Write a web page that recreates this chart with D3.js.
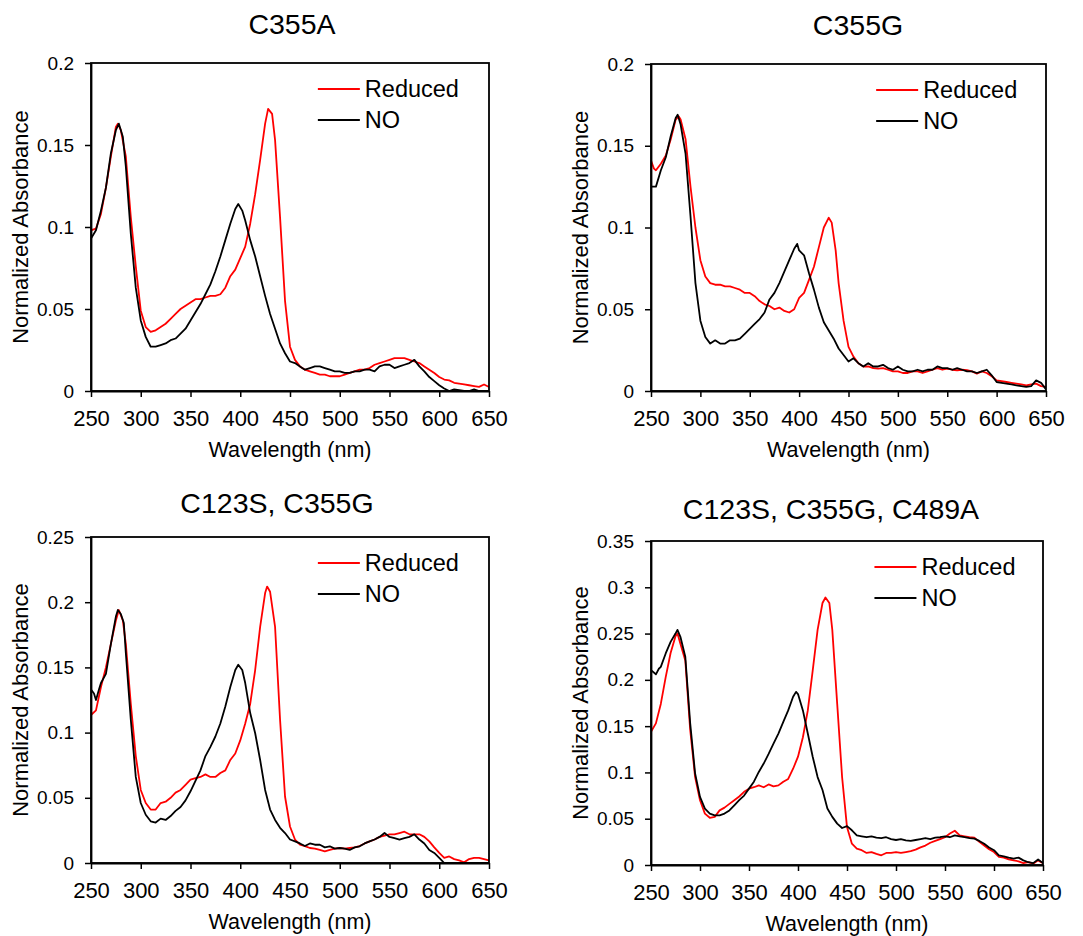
<!DOCTYPE html>
<html>
<head>
<meta charset="utf-8">
<script src="https://cdn.jsdelivr.net/npm/d3@7"></script>
<style>
  body { margin: 0; background: #fff; }
  svg { font-family: Arial, "Liberation Sans", sans-serif; }
  .axis path, .axis line { stroke: #000; }
</style>
</head>
<body>
<div id="chart"></div>
<script>
// panel titles and y ranges
var titles = ["C355A", "C355G", "C123S, C355G", "C123S, C355G, C489A"],
    yMaxes = [0.2, 0.2, 0.25, 0.35],
    xTicks = [250, 300, 350, 400, 450, 500, 550, 600, 650],
    seriesNames = ["Reduced", "NO"],
    seriesColors = ["#ff0000", "#000000"];

// spectra as [wavelength (nm), normalized absorbance]
var c355aReduced = [[250,.098],[255,.099],[260,.108],[265,.124],[270,.143],[275,.161],[277,.163],[280,.159],[285,.143],[290,.106],[295,.076],[300,.049],[305,.039],[310,.036],[315,.037],[320,.039],[325,.041],[330,.044],[335,.047],[340,.050],[345,.052],[350,.054],[355,.056],[360,.056],[365,.057],[370,.058],[375,.058],[380,.059],[385,.063],[390,.070],[395,.074],[400,.081],[405,.088],[410,.102],[415,.120],[420,.141],[425,.163],[428,.172],[432,.169],[435,.153],[440,.106],[445,.055],[450,.027],[455,.019],[460,.015],[465,.013],[470,.012],[475,.011],[480,.010],[485,.010],[490,.009],[495,.009],[500,.009],[505,.010],[510,.011],[515,.012],[520,.013],[525,.013],[530,.014],[535,.016],[540,.017],[545,.018],[550,.019],[555,.020],[560,.020],[565,.020],[570,.019],[575,.018],[580,.017],[585,.015],[590,.013],[595,.011],[600,.0085],[605,.007],[610,.0065],[615,.005],[620,.0045],[625,.004],[630,.0035],[635,.003],[640,.0025],[645,.004],[650,.0025]];
var c355aNO = [[250,.093],[255,.098],[260,.110],[265,.124],[270,.145],[275,.159],[278,.163],[282,.155],[285,.137],[290,.096],[295,.063],[300,.043],[305,.033],[310,.027],[315,.027],[320,.028],[325,.029],[330,.031],[335,.032],[340,.035],[345,.038],[350,.043],[355,.048],[360,.053],[365,.059],[370,.065],[375,.073],[380,.082],[385,.092],[390,.102],[395,.111],[398,.114],[402,.110],[405,.104],[410,.092],[415,.082],[420,.070],[425,.058],[430,.047],[435,.038],[440,.029],[445,.023],[450,.018],[455,.017],[460,.015],[465,.013],[470,.014],[475,.015],[480,.015],[485,.014],[490,.013],[495,.012],[500,.012],[505,.011],[510,.011],[515,.012],[520,.012],[525,.013],[530,.013],[535,.012],[540,.015],[545,.016],[550,.016],[555,.014],[560,.015],[565,.016],[570,.017],[575,.019],[580,.015],[585,.012],[590,.0085],[595,.006],[600,.0035],[605,.0015],[610,0],[615,.001],[620,.0005],[625,0],[630,0],[635,.001],[640,0],[645,0],[650,0]];

var c355gReduced = [[250,.141],[253,.136],[255,.135],[260,.139],[265,.144],[270,.154],[275,.166],[278,.168],[280,.166],[285,.154],[290,.125],[295,.100],[300,.080],[305,.070],[310,.066],[315,.065],[320,.065],[325,.064],[330,.064],[335,.063],[340,.062],[345,.060],[350,.060],[355,.058],[360,.055],[365,.053],[370,.052],[375,.050],[380,.051],[385,.049],[390,.048],[395,.050],[400,.057],[405,.060],[410,.068],[415,.076],[420,.088],[425,.100],[430,.106],[433,.103],[437,.086],[440,.066],[445,.043],[450,.027],[455,.021],[460,.017],[465,.015],[470,.015],[475,.014],[480,.0137],[485,.014],[490,.013],[495,.012],[500,.012],[505,.011],[510,.011],[515,.012],[520,.012],[525,.011],[530,.012],[535,.013],[540,.014],[545,.013],[550,.0137],[555,.013],[560,.0127],[565,.013],[570,.0127],[575,.012],[580,.0106],[585,.012],[590,.011],[595,.009],[600,.0065],[605,.006],[610,.0055],[615,.005],[620,.0045],[625,.004],[630,.0035],[635,.004],[640,.0045],[645,.003],[650,.0025]];
var c355gNO = [[250,.125],[255,.125],[260,.135],[265,.143],[270,.156],[275,.167],[277,.169],[280,.163],[285,.145],[290,.107],[295,.066],[300,.043],[305,.033],[310,.029],[315,.031],[320,.029],[325,.029],[330,.031],[335,.031],[340,.032],[345,.035],[350,.038],[355,.041],[360,.044],[365,.048],[370,.056],[375,.060],[380,.066],[385,.073],[390,.080],[395,.087],[398,.090],[400,.086],[405,.083],[410,.072],[415,.062],[420,.051],[425,.042],[430,.037],[435,.032],[440,.026],[445,.022],[450,.018],[455,.020],[460,.017],[465,.015],[470,.017],[475,.015],[480,.015],[485,.016],[490,.014],[495,.013],[500,.015],[505,.013],[510,.012],[515,.012],[520,.013],[525,.012],[530,.013],[535,.013],[540,.015],[545,.014],[550,.014],[555,.013],[560,.014],[565,.013],[570,.012],[575,.012],[580,.011],[585,.012],[590,.013],[595,.0096],[600,.0055],[605,.005],[610,.0045],[615,.004],[620,.0035],[625,.003],[630,.0025],[635,.003],[640,.0065],[645,.005],[650,.001]];

var c123sReduced = [[250,.1135],[255,.117],[260,.135],[265,.150],[270,.168],[275,.186],[278,.194],[282,.186],[285,.168],[290,.122],[295,.082],[300,.056],[305,.046],[310,.041],[315,.041],[320,.046],[325,.047],[330,.050],[335,.054],[340,.056],[345,.060],[350,.064],[355,.065],[360,.066],[365,.068],[370,.066],[375,.066],[380,.069],[385,.071],[390,.079],[395,.084],[400,.094],[405,.107],[410,.122],[415,.148],[420,.181],[425,.207],[427,.212],[430,.208],[435,.181],[440,.110],[445,.051],[450,.028],[455,.018],[460,.014],[465,.013],[470,.0115],[475,.011],[480,.010],[485,.009],[490,.010],[495,.011],[500,.0115],[505,.011],[510,.0115],[515,.012],[520,.013],[525,.015],[530,.0166],[535,.018],[540,.020],[545,.021],[550,.022],[555,.022],[560,.023],[565,.024],[570,.022],[575,.022],[580,.022],[585,.020],[590,.0166],[595,.012],[600,.0077],[605,.004],[610,.005],[615,.003],[620,.002],[625,.0005],[630,.003],[635,.004],[640,.004],[645,.003],[650,.002]];
var c123sNO = [[250,.133],[253,.130],[255,.125],[258,.133],[260,.138],[265,.145],[270,.168],[275,.189],[277,.194],[280,.191],[283,.184],[285,.161],[290,.110],[295,.066],[300,.046],[305,.037],[310,.032],[315,.031],[320,.034],[325,.033],[330,.036],[335,.040],[340,.043],[345,.048],[350,.055],[355,.063],[360,.071],[365,.082],[370,.089],[375,.097],[380,.107],[385,.120],[390,.135],[395,.148],[398,.152],[402,.148],[405,.138],[410,.115],[415,.0995],[420,.079],[425,.056],[430,.041],[435,.033],[440,.027],[445,.023],[450,.018],[455,.0166],[460,.015],[465,.013],[470,.015],[475,.014],[480,.014],[485,.012],[490,.0128],[495,.011],[500,.0115],[505,.011],[510,.010],[515,.012],[520,.0128],[525,.015],[530,.0166],[535,.018],[540,.020],[545,.023],[550,.020],[555,.019],[560,.018],[565,.019],[570,.020],[575,.022],[580,.018],[585,.015],[590,.010],[595,.0077],[600,.004],[605,0],[610,0],[620,0],[630,0],[640,0],[650,0]];

var c489aReduced = [[250,.144],[255,.153],[260,.174],[265,.203],[270,.229],[275,.247],[277,.250],[280,.239],[285,.221],[290,.146],[295,.095],[300,.070],[305,.0555],[310,.051],[315,.052],[320,.059],[325,.062],[330,.066],[335,.070],[340,.074],[345,.079],[350,.0825],[355,.084],[360,.086],[365,.084],[370,.087],[375,.085],[380,.086],[385,.090],[390,.093],[395,.104],[400,.117],[405,.138],[410,.167],[415,.210],[420,.254],[425,.283],[428,.289],[432,.283],[435,.254],[440,.174],[445,.095],[450,.041],[455,.023],[460,.0177],[465,.016],[470,.013],[475,.014],[480,.012],[485,.0105],[490,.013],[495,.013],[500,.014],[505,.013],[510,.014],[515,.015],[520,.0166],[525,.019],[530,.021],[535,.024],[540,.026],[545,.028],[550,.030],[555,.034],[560,.037],[565,.032],[570,.031],[575,.030],[580,.0296],[585,.025],[590,.021],[595,.017],[600,.014],[605,.0087],[610,.008],[615,.006],[620,.005],[625,.004],[630,.002],[635,.003],[640,.0014],[645,.005],[650,.002]];
var c489aNO = [[250,.2105],[255,.206],[258,.212],[260,.214],[265,.2285],[270,.241],[275,.250],[277,.254],[280,.2465],[285,.225],[290,.153],[295,.099],[300,.0735],[305,.061],[310,.0555],[315,.0537],[320,.0537],[325,.0555],[330,.059],[335,.0645],[340,.070],[345,.075],[350,.0825],[355,.090],[360,.1005],[365,.1096],[370,.120],[375,.131],[380,.142],[385,.1546],[390,.167],[395,.1817],[398,.187],[400,.1846],[405,.167],[410,.142],[415,.117],[420,.095],[425,.081],[430,.061],[435,.052],[440,.0447],[445,.040],[450,.042],[455,.0375],[460,.032],[465,.031],[470,.030],[475,.031],[480,.0296],[485,.029],[490,.030],[495,.028],[500,.027],[505,.028],[510,.0267],[515,.026],[520,.027],[525,.028],[530,.029],[535,.028],[540,.0296],[545,.030],[550,.031],[555,.030],[560,.032],[565,.031],[570,.030],[575,.029],[580,.0285],[585,.026],[590,.023],[595,.019],[600,.016],[605,.0105],[610,.0094],[615,.008],[620,.007],[625,.008],[630,.005],[635,.003],[640,.002],[645,.006],[650,.002]];

var panelSeries = [
    [c355aReduced, c355aNO],
    [c355gReduced, c355gNO],
    [c123sReduced, c123sNO],
    [c489aReduced, c489aNO]
];

// plot-area boxes for each panel (page pixels)
var boxes = [
    {left: 91,  top: 63,  width: 398, height: 328, titleX: 292, titleY: 34,  labelX: 28},
    {left: 651, top: 64,  width: 395, height: 327, titleX: 858, titleY: 35,  labelX: 588},
    {left: 91,  top: 537, width: 398, height: 326, titleX: 277, titleY: 513, labelX: 28},
    {left: 651, top: 541, width: 392, height: 324, titleX: 831, titleY: 519, labelX: 588}
];

var svg = d3.select("#chart")
    .append("svg")
    .attr("width", 1083)
    .attr("height", 936);

boxes.forEach(function(b, i) {
    var x = d3.scaleLinear().domain([250, 650]).range([0, b.width]);
    var y = d3.scaleLinear().domain([0, yMaxes[i]]).range([b.height, 0]);

    var g = svg.append("g")
        .attr("transform", "translate(" + b.left + "," + b.top + ")");

    // title
    svg.append("text")
        .attr("x", b.titleX)
        .attr("y", b.titleY)
        .attr("text-anchor", "middle")
        .style("font-size", "28.5px")
        .text(titles[i]);

    g.append("clipPath")
        .attr("id", "clip" + i)
        .append("rect")
        .attr("width", b.width)
        .attr("height", b.height);

    // spectra
    var line = d3.line()
        .x(function(d) { return x(d[0]); })
        .y(function(d) { return y(d[1]); });

    panelSeries[i].forEach(function(s, k) {
        g.append("path")
            .datum(s)
            .attr("clip-path", "url(#clip" + i + ")")
            .attr("fill", "none")
            .attr("stroke", seriesColors[k])
            .attr("stroke-width", 1.8)
            .attr("stroke-linejoin", "round")
            .attr("d", line);
    });

    // frame
    g.append("rect")
        .attr("width", b.width)
        .attr("height", b.height)
        .attr("fill", "none")
        .attr("stroke", "#000")
        .attr("stroke-width", 1.8);

    // x axis
    var xa = g.append("g")
        .attr("class", "axis")
        .attr("transform", "translate(0," + b.height + ")")
        .call(d3.axisBottom(x).tickValues(xTicks).tickSize(6).tickSizeOuter(0).tickPadding(13));
    xa.select(".domain").attr("stroke-width", 1.8);
    xa.selectAll(".tick line").attr("stroke-width", 1.5);
    xa.selectAll("text").style("font-size", "22px").attr("fill", "#000");

    // y axis
    var yTicks = d3.range(0, Math.round(yMaxes[i] / 0.05) + 1).map(function(n) { return +(n * 0.05).toFixed(2); });
    var ya = g.append("g")
        .attr("class", "axis")
        .call(d3.axisLeft(y).tickValues(yTicks).tickFormat(function(d) { return String(d); })
            .tickSize(6).tickSizeOuter(0).tickPadding(11));
    ya.select(".domain").attr("stroke-width", 1.8);
    ya.selectAll(".tick line").attr("stroke-width", 1.5);
    ya.selectAll("text").style("font-size", "19px").attr("fill", "#000");

    // axis titles
    g.append("text")
        .attr("x", b.width / 2)
        .attr("y", b.height + 66)
        .attr("text-anchor", "middle")
        .style("font-size", "21.5px")
        .text("Wavelength (nm)");

    svg.append("text")
        .attr("transform", "translate(" + b.labelX + "," + (b.top + b.height / 2) + ") rotate(-90)")
        .attr("text-anchor", "middle")
        .style("font-size", "22px")
        .text("Normalized Absorbance");

    // legend
    var leg = g.append("g")
        .attr("transform", "translate(" + (b.width * 0.57) + ",26)");
    seriesNames.forEach(function(name, k) {
        leg.append("line")
            .attr("x1", 0).attr("x2", 42)
            .attr("y1", k * 31).attr("y2", k * 31)
            .attr("stroke", seriesColors[k])
            .attr("stroke-width", 2);
        leg.append("text")
            .attr("x", 47)
            .attr("y", k * 31)
            .attr("dy", "0.36em")
            .style("font-size", "23.5px")
            .text(name);
    });
});
</script>
</body>
</html>
